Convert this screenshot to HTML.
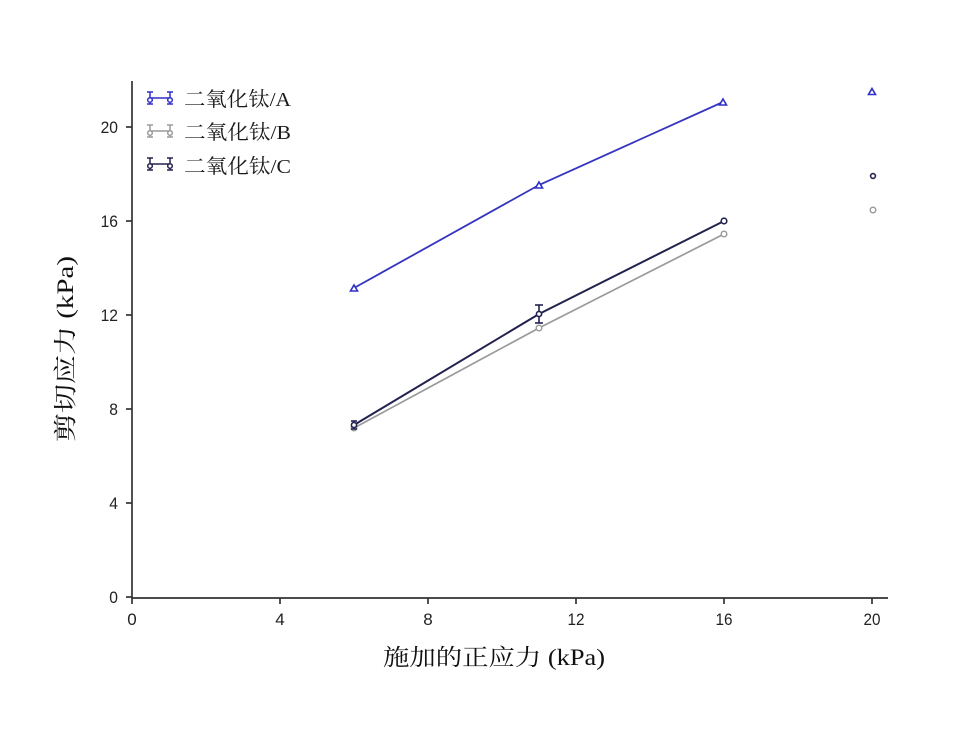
<!DOCTYPE html>
<html><head><meta charset="utf-8"><style>
html,body{margin:0;padding:0;background:#fff;}
svg{display:block;}
</style></head><body>
<svg width="978" height="748" viewBox="0 0 978 748" xmlns="http://www.w3.org/2000/svg">
<rect width="978" height="748" fill="#fff"/>
<!-- axes -->
<g stroke="#333" stroke-width="1.7" fill="none">
<line x1="132" y1="81" x2="132" y2="598"/>
<line x1="132" y1="598" x2="888" y2="598"/>
<!-- y ticks -->
<line x1="126" y1="597" x2="132" y2="597"/>
<line x1="126" y1="503" x2="132" y2="503"/>
<line x1="126" y1="409" x2="132" y2="409"/>
<line x1="126" y1="315" x2="132" y2="315"/>
<line x1="126" y1="221" x2="132" y2="221"/>
<line x1="126" y1="127" x2="132" y2="127"/>
<!-- x ticks -->
<line x1="132" y1="598" x2="132" y2="604"/>
<line x1="280" y1="598" x2="280" y2="604"/>
<line x1="428" y1="598" x2="428" y2="604"/>
<line x1="576" y1="598" x2="576" y2="604"/>
<line x1="724" y1="598" x2="724" y2="604"/>
<line x1="872" y1="598" x2="872" y2="604"/>
</g>
<g font-family="Liberation Sans, Arial, sans-serif" font-size="17" fill="#222" text-anchor="end">
<text x="118" y="603" transform="translate(118,0) scale(0.92,1) translate(-118,0)">0</text>
<text x="118" y="509" transform="translate(118,0) scale(0.92,1) translate(-118,0)">4</text>
<text x="118" y="415" transform="translate(118,0) scale(0.92,1) translate(-118,0)">8</text>
<text x="118" y="321" transform="translate(118,0) scale(0.92,1) translate(-118,0)">12</text>
<text x="118" y="227" transform="translate(118,0) scale(0.92,1) translate(-118,0)">16</text>
<text x="118" y="133" transform="translate(118,0) scale(0.92,1) translate(-118,0)">20</text>
</g>
<g font-family="Liberation Sans, Arial, sans-serif" font-size="17" fill="#222" text-anchor="middle">
<text x="132" y="625">0</text>
<text x="280" y="625">4</text>
<text x="428" y="625">8</text>
<text x="576" y="625" textLength="17" lengthAdjust="spacingAndGlyphs">12</text>
<text x="724" y="625" textLength="17" lengthAdjust="spacingAndGlyphs">16</text>
<text x="872" y="625" textLength="17" lengthAdjust="spacingAndGlyphs">20</text>
</g>
<!-- axis titles -->
<text x="383" y="665" font-family="Liberation Serif, Noto Serif CJK SC, serif" font-size="23" fill="#111" textLength="222" lengthAdjust="spacingAndGlyphs">施加的正应力 (kPa)</text>
<text transform="translate(73,442) rotate(-90)" font-family="Liberation Serif, Noto Serif CJK SC, serif" font-size="23" fill="#111" textLength="186" lengthAdjust="spacingAndGlyphs">剪切应力 (kPa)</text>

<!-- series B (gray) -->
<polyline points="354,428 539,328 724,234" fill="none" stroke="#9a9a9a" stroke-width="1.7"/>
<g fill="#fff" stroke="#999" stroke-width="1.4">
<circle cx="354" cy="428" r="2.8"/>
<circle cx="539" cy="328" r="2.8"/>
<circle cx="724" cy="234" r="2.8"/>
<circle cx="873" cy="210" r="2.8"/>
</g>
<!-- series C (navy) -->
<polyline points="354,425 539,314 724,221" fill="none" stroke="#22224f" stroke-width="2"/>
<g stroke="#22224f" stroke-width="1.6">
<line x1="539" y1="305" x2="539" y2="323"/>
<line x1="535" y1="305" x2="543" y2="305"/>
<line x1="535" y1="323" x2="543" y2="323"/>
<line x1="354" y1="421" x2="354" y2="429"/>
<line x1="351" y1="421" x2="357" y2="421"/>
<line x1="351" y1="429" x2="357" y2="429"/>
</g>
<g fill="#fff" stroke="#22224f" stroke-width="1.6">
<circle cx="354" cy="425" r="2.6"/>
<circle cx="539" cy="314" r="2.6"/>
<circle cx="724" cy="221" r="2.8"/>
<circle cx="873" cy="176" r="2.4"/>
</g>
<!-- series A (blue) -->
<polyline points="354,288 539,185 723,102" fill="none" stroke="#3535c0" stroke-width="1.8"/>
<g fill="#fff" stroke="#2e2ec8" stroke-width="1.6">
<polygon points="354,285 357.5,291 350.5,291"/>
<polygon points="539,182 542.5,188 535.5,188"/>
<polygon points="723,99 726.5,105 719.5,105"/>
<polygon points="872,88.5 875.5,94.5 868.5,94.5"/>
</g>

<!-- legend -->
<g stroke-width="1.5" fill="none">
  <g stroke="#2e2ec8">
    <line x1="150" y1="98" x2="170" y2="98"/>
    <line x1="150" y1="92" x2="150" y2="104"/><line x1="147" y1="92" x2="153" y2="92"/><line x1="147" y1="104" x2="153" y2="104"/>
    <line x1="170" y1="92" x2="170" y2="104"/><line x1="167" y1="92" x2="173" y2="92"/><line x1="167" y1="104" x2="173" y2="104"/>
    <circle cx="150" cy="100" r="2.3" fill="#fff"/><circle cx="170" cy="100" r="2.3" fill="#fff"/>
  </g>
  <g stroke="#9a9a9a">
    <line x1="150" y1="131" x2="170" y2="131"/>
    <line x1="150" y1="125" x2="150" y2="137"/><line x1="147" y1="125" x2="153" y2="125"/><line x1="147" y1="137" x2="153" y2="137"/>
    <line x1="170" y1="125" x2="170" y2="137"/><line x1="167" y1="125" x2="173" y2="125"/><line x1="167" y1="137" x2="173" y2="137"/>
    <circle cx="150" cy="133" r="2.3" fill="#fff"/><circle cx="170" cy="133" r="2.3" fill="#fff"/>
  </g>
  <g stroke="#22224f">
    <line x1="150" y1="164" x2="170" y2="164"/>
    <line x1="150" y1="158" x2="150" y2="170"/><line x1="147" y1="158" x2="153" y2="158"/><line x1="147" y1="170" x2="153" y2="170"/>
    <line x1="170" y1="158" x2="170" y2="170"/><line x1="167" y1="158" x2="173" y2="158"/><line x1="167" y1="170" x2="173" y2="170"/>
    <circle cx="150" cy="166" r="2.3" fill="#fff"/><circle cx="170" cy="166" r="2.3" fill="#fff"/>
  </g>
</g>
<g font-family="Liberation Serif, Noto Serif CJK SC, serif" font-size="20" fill="#1a1a1a">
<text x="184" y="106" textLength="107" lengthAdjust="spacingAndGlyphs">二氧化钛/A</text>
<text x="184" y="139" textLength="107" lengthAdjust="spacingAndGlyphs">二氧化钛/B</text>
<text x="184" y="173" textLength="107" lengthAdjust="spacingAndGlyphs">二氧化钛/C</text>
</g>
</svg>
</body></html>
